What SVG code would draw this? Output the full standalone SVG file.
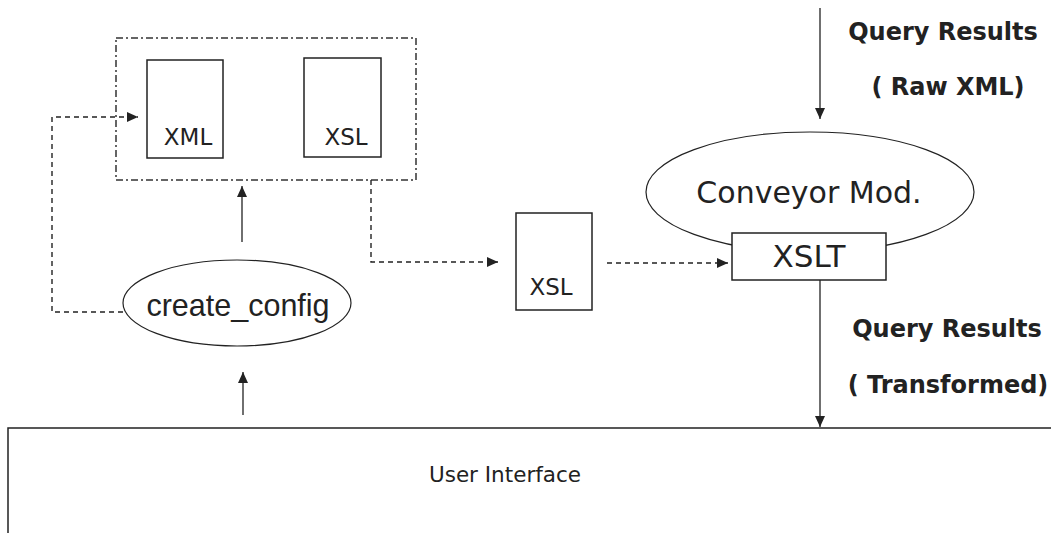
<svg xmlns="http://www.w3.org/2000/svg" width="1051" height="533" viewBox="0 0 1051 533">
<defs>
<marker id="ah" markerUnits="userSpaceOnUse" markerWidth="12" markerHeight="10" refX="11" refY="5" orient="auto">
<path d="M0,0 L11,5 L0,10 Z" fill="#222"/>
</marker>
<style>
.box{fill:#fff;stroke:#222;stroke-width:1.5}
.grp{fill:none;stroke:#333;stroke-width:1.5;stroke-dasharray:7 3 2 3}
.ell{fill:#fff;stroke:#222;stroke-width:1.2}
.solid{fill:none;stroke:#222;stroke-width:1.3;marker-end:url(#ah)}
.dash{fill:none;stroke:#222;stroke-width:1.4;stroke-dasharray:5 4;marker-end:url(#ah)}
.t{font-family:"DejaVu Sans",Verdana,sans-serif;fill:#222;text-anchor:middle}
.a{font-family:"Liberation Sans",Arial,sans-serif;fill:#222;text-anchor:middle}
.b{font-family:"DejaVu Sans",Verdana,sans-serif;font-weight:bold;fill:#222;text-anchor:middle}
</style>
</defs>
<g id="ui">
<rect class="box" x="8" y="428" width="1100" height="200"/>
<text class="t" x="505" y="482" font-size="21.5">User Interface</text>
</g>
<g id="config-files">
<rect class="grp" x="116" y="38" width="300" height="142"/>
</g>
<g id="xml">
<rect class="box" x="147" y="60" width="76" height="98"/>
<text class="t" x="188" y="145" font-size="23">XML</text>
</g>
<g id="xsl">
<rect class="box" x="304" y="58" width="77" height="99"/>
<text class="t" x="346" y="145" font-size="23">XSL</text>
</g>
<g id="create-config">
<ellipse class="ell" cx="237" cy="303" rx="114" ry="43"/>
<text class="a" x="238" y="316" font-size="30.5">create_config</text>
</g>
<g id="xsl-mid">
<rect class="box" x="516" y="213" width="76" height="97"/>
<text class="t" x="551" y="295" font-size="23">XSL</text>
</g>
<g id="conveyor">
<ellipse class="ell" cx="810" cy="192" rx="164" ry="60"/>
<text class="t" x="809" y="203" font-size="30">Conveyor Mod.</text>
</g>
<g id="xslt">
<rect class="box" x="732" y="233" width="154" height="47"/>
<text class="t" x="809" y="267" font-size="31">XSLT</text>
</g>
<g id="labels">
<text class="b" x="943" y="40" font-size="24">Query Results</text>
<text class="b" x="948" y="95" font-size="24">( Raw XML)</text>
<text class="b" x="947" y="337" font-size="24">Query Results</text>
<text class="b" x="948" y="393" font-size="24">( Transformed)</text>
</g>
<g id="connectors">
<path class="solid" d="M242,242 V186"/>
<path class="solid" d="M243,415 V372"/>
<path class="dash" d="M123,312 H52 V117 H138"/>
<path class="dash" d="M371,180 V262 H498"/>
<path class="dash" d="M607,263 H728"/>
<path class="solid" d="M820,8 V119"/>
<path class="solid" d="M820,280 V427"/>
</g>
</svg>
